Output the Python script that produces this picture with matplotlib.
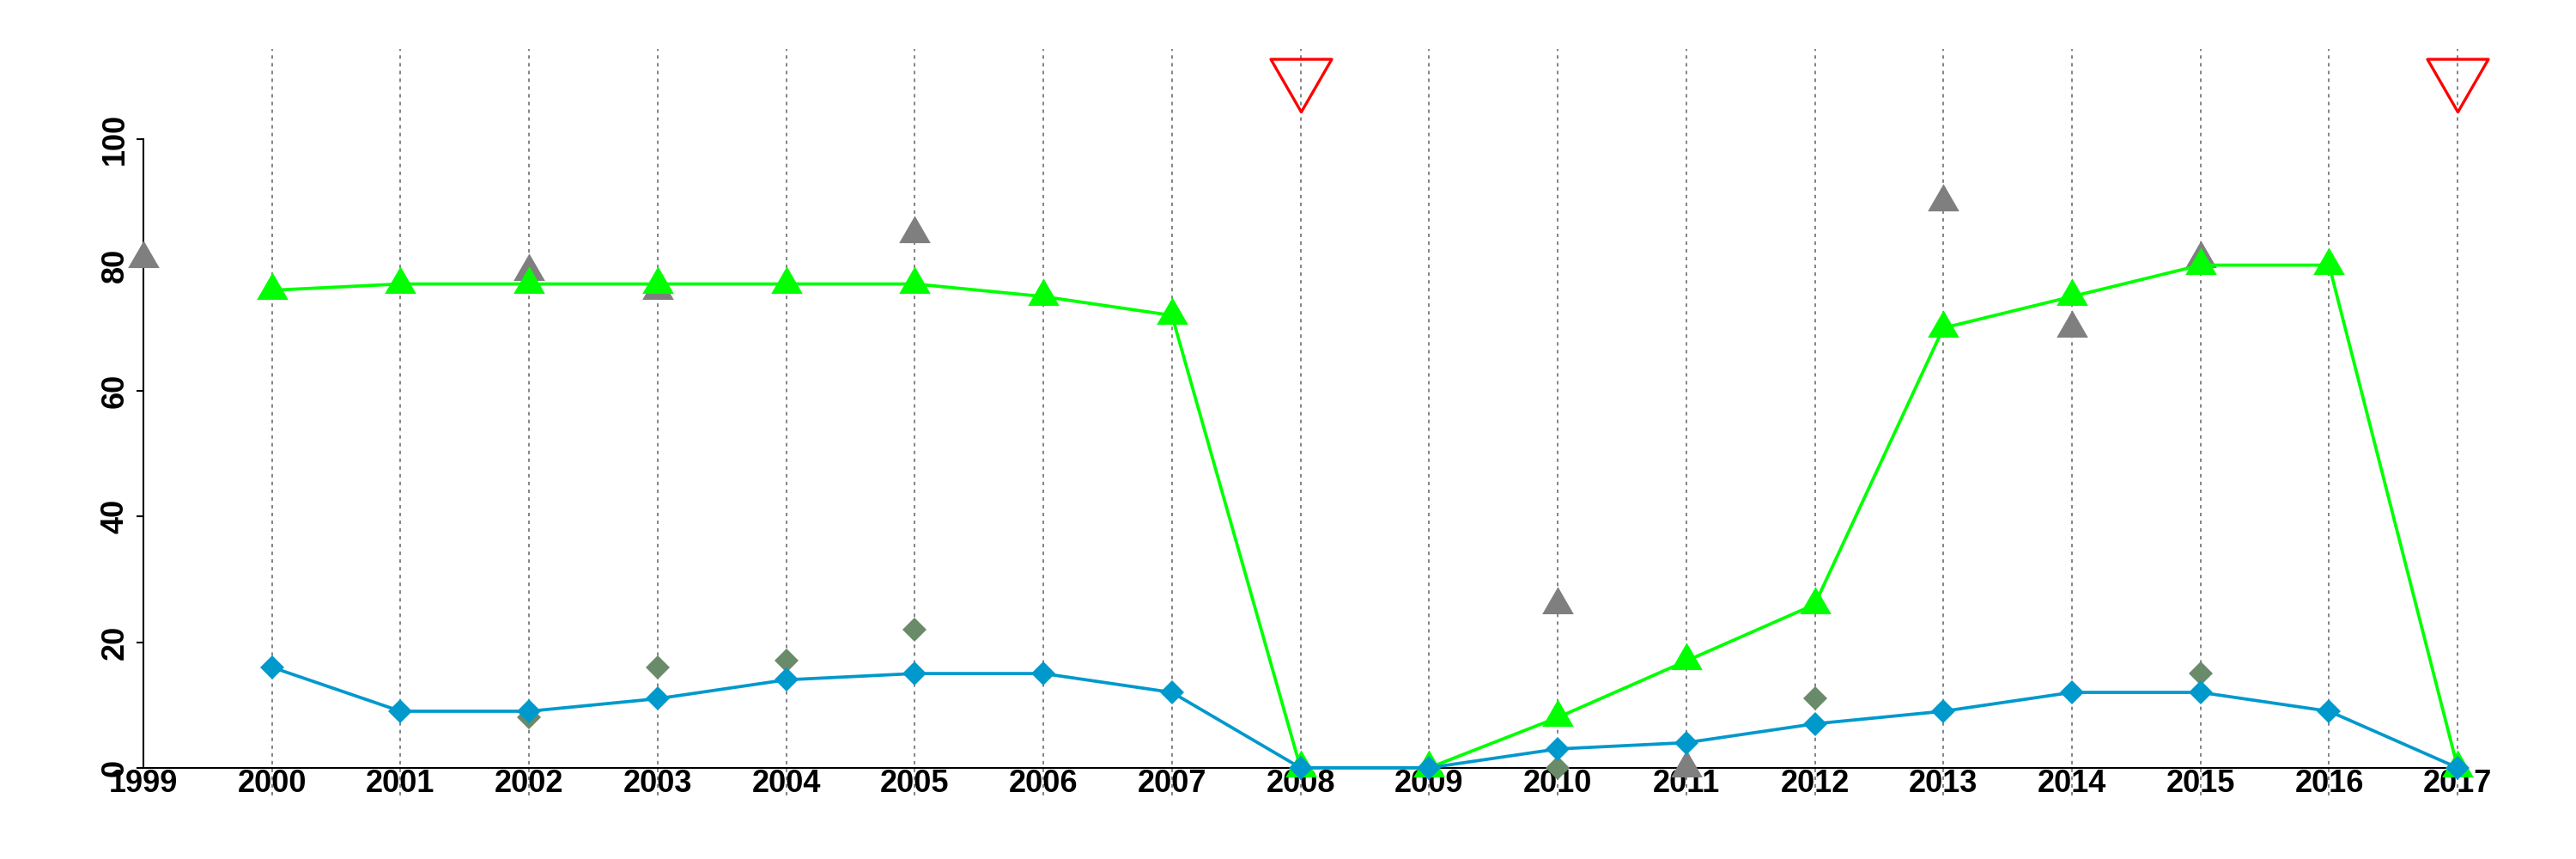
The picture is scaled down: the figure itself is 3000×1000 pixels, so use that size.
import numpy as np
import matplotlib
matplotlib.use("Agg")
import matplotlib.pyplot as plt
from matplotlib.path import Path
from matplotlib.markers import MarkerStyle

plt.rcParams['font.family'] = ['Liberation Sans', 'DejaVu Sans']
plt.rcParams['lines.scale_dashes'] = False

years = list(range(1999, 2018))
yticks = [0, 20, 40, 60, 80, 100]

# main series (2000-2017)
line_years = list(range(2000, 2018))
green_vals = [76, 77, 77, 77, 77, 77, 75, 72, 0, 0, 8, 17, 26, 70, 75, 80, 80, 0]
blue_vals = [16, 9, 9, 11, 14, 15, 15, 12, 0, 0, 3, 4, 7, 9, 12, 12, 9, 0]

# loose gray triangles
gray_years = [1999, 2002, 2003, 2005, 2010, 2011, 2013, 2014, 2015]
gray_vals = [81, 79, 76, 85, 26, 0, 90, 70, 81]

# loose dark green diamonds
dkgreen_years = [2002, 2003, 2004, 2005, 2010, 2012, 2015]
dkgreen_vals = [8, 16, 17, 22, 0, 11, 15]

# open red triangles at the top
red_years = [2008, 2017]
red_vals = [110, 110]

GREEN = '#00FF00'
BLUE = '#0099CC'
GRAY = '#7F7F7F'
DKGREEN = '#698B69'

# equilateral triangles with the data point at the centroid (like R pch 17 / 6)
tri_up = MarkerStyle(Path([(0, 1.155), (-1, -0.577), (1, -0.577), (0, 1.155)], closed=True))
tri_down = MarkerStyle(Path([(0, -1.155), (-1, 0.577), (1, 0.577), (0, -1.155)], closed=True),
                       joinstyle='round')

fig = plt.figure(figsize=(30, 10), dpi=100)
ax = fig.add_axes([0.0197, 0.074, 0.9703, 0.869])

# R style 4% padding around data range
ax.set_xlim(years[0] - 0.04 * (years[-1] - years[0]), years[-1] + 0.04 * (years[-1] - years[0]))
ax.set_ylim(-0.04 * 110, 110 * 1.04)

# no guide line at 1999, the y axis sits there
for yr in years[1:]:
    ax.axvline(yr, color='#6E6E6E', lw=1.2, dashes=(2.9, 3.6), zorder=1)

ax.plot(gray_years, gray_vals, ls='none', marker=tri_up, ms=30.5, mfc=GRAY,
        mec='none', mew=0, zorder=3, clip_on=False)
ax.plot(dkgreen_years, dkgreen_vals, ls='none', marker='D', ms=14, mfc=DKGREEN,
        mec='none', mew=0, zorder=3, clip_on=False)
ax.plot(line_years, green_vals, color=GREEN, lw=2.7, marker=tri_up, ms=30.5,
        mfc=GREEN, mec='none', mew=0, zorder=4, clip_on=False)
ax.plot(line_years, blue_vals, color=BLUE, lw=2.7, marker='D', ms=14,
        mfc=BLUE, mec='none', mew=0, zorder=5, clip_on=False)
ax.plot(red_years, red_vals, ls='none', marker=tri_down, ms=59, mfc='none',
        mec='#FF0000', mew=2.4, zorder=6, clip_on=False)

for s in ['top', 'right']:
    ax.spines[s].set_visible(False)
ax.spines['left'].set_position(('data', years[0]))
ax.spines['bottom'].set_position(('data', 0))
ax.spines['left'].set_bounds(yticks[0], yticks[-1])
ax.spines['bottom'].set_bounds(years[0], years[-1])
for s in ['left', 'bottom']:
    ax.spines[s].set_linewidth(1.5)
    ax.spines[s].set_zorder(2)

ax.set_xticks(years)
ax.set_xticklabels([str(y) for y in years], fontsize=26, fontweight='bold')
ax.set_yticks(yticks)
ax.set_yticklabels([str(v) for v in yticks], fontsize=26, fontweight='bold',
                   rotation=90, va='center')
ax.tick_params(axis='x', length=0, pad=0.5)
ax.tick_params(axis='y', length=5.8, width=1.5, pad=5)

fig.savefig('out.png', dpi=100)
